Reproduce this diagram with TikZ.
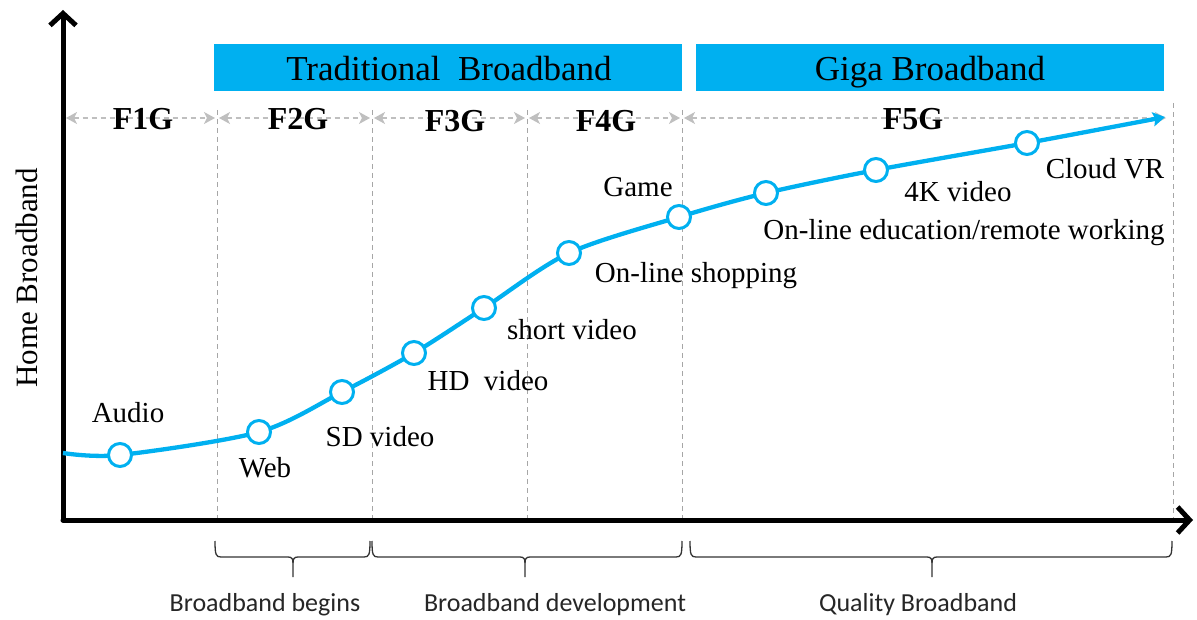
\documentclass[tikz,border=0pt]{standalone}
\usepackage{fontspec}
\setmainfont{Liberation Serif}
\newfontfamily\calib{Carlito}
\usetikzlibrary{arrows.meta}
\definecolor{bblue}{HTML}{00B0F0}
\definecolor{dgray}{HTML}{BFBFBF}
\definecolor{lgray}{HTML}{A6A6A6}
\begin{document}
\begin{tikzpicture}[x=1pt,y=-1pt,
  bar/.style={fill=bblue, draw=none, minimum height=47pt, inner sep=0pt},
  bartext/.style={font=\fontsize{35}{40}\selectfont, inner sep=0pt, anchor=base},
  phase/.style={font=\fontsize{32}{36}\selectfont\bfseries, inner sep=0pt},
  garrow/.style={draw=dgray, dashed, dash pattern=on 5pt off 4pt, line width=1.3pt, {Stealth[length=11pt,width=12pt,inset=3pt]}-{Stealth[length=11pt,width=12pt,inset=3pt]}},
  vline/.style={draw=lgray, dashed, dash pattern=on 5pt off 4pt, line width=0.8pt},
  axis/.style={line width=5pt, -{Straight Barb[length=12pt,width=26pt,line width=5pt]}, line cap=round},
  curve/.style={draw=bblue, line width=4.3pt, -{Stealth[length=12pt,width=14pt,inset=2pt]}},
  dot/.style={circle, draw=bblue, fill=white, line width=3pt, minimum size=23pt, inner sep=0pt},
  lab/.style={font=\fontsize{29}{33}\selectfont, inner sep=0pt},
  brace/.style={draw=black!80, line width=1.3pt},
  slab/.style={font=\calib\fontsize{26}{30}\selectfont, text=black!85, inner sep=0pt}]
\useasboundingbox (0,0) rectangle (1197,620);

% vertical dashed separators
\foreach \i/\x/\t in {1/217/110, 2/372/110, 3/527/110, 4/682/110, 5/1173/103} {
  \coordinate (vt\i) at (\x,\t);
  \coordinate (vb\i) at (\x,520);
  \draw[vline] (vt\i) -- (vb\i);
}

% bars
\node[bar, minimum width=468pt] (trad) at (447.5,67.5) {};
\node[bar, minimum width=468pt] (giga) at (930,67.5) {};
\node[bartext] (tradt) at (449,81) {Traditional\ \ Broadband};
\node[bartext] (gigat) at (930,81) {Giga Broadband};

% phase arrows
\coordinate (h0) at (66,118);
\coordinate (h1l) at (215,118); \coordinate (h1r) at (219,118);
\coordinate (h2l) at (370,118); \coordinate (h2r) at (374,118);
\coordinate (h3l) at (525,118); \coordinate (h3r) at (529,118);
\coordinate (h4l) at (680,118); \coordinate (h4r) at (684,118);
\coordinate (h5) at (1166,118);
\draw[garrow] (h0) -- (h1l);
\draw[garrow] (h1r) -- (h2l);
\draw[garrow] (h2r) -- (h3l);
\draw[garrow] (h3r) -- (h4l);
\draw[garrow] (h4r) -- (h5);
\node[phase] (f1) at (143,119) {F1G};
\node[phase] (f2) at (298,119) {F2G};
\node[phase] (f3) at (455,121) {F3G};
\node[phase] (f4) at (606,121) {F4G};
\node[phase] (f5) at (913,119) {F5G};

% axes
\coordinate (O) at (63,520);
\coordinate (ytop) at (63,10);
\coordinate (xend) at (1193,520);
\draw[axis] (O) -- (ytop);
\draw[axis] (O) -- (xend);
\node[rotate=90, font=\fontsize{31}{34}\selectfont, inner sep=0pt] (ylab) at (27,278) {Home Broadband};

% curve
\coordinate (s) at (63,453);
\coordinate (c1) at (120,455);
\coordinate (c2) at (259,432);
\coordinate (c3) at (342,392);
\coordinate (c4) at (414,353);
\coordinate (c5) at (484,308);
\coordinate (c6) at (569,253);
\coordinate (c7) at (679,217);
\coordinate (c8) at (766,193);
\coordinate (c9) at (876,170);
\coordinate (c10) at (1027,143);
\coordinate (e) at (1165,117);
\draw[curve] plot[smooth, tension=0.5] coordinates {(s) (c1) (c2) (c3) (c4) (c5) (c6) (c7) (c8) (c9) (c10) (e)};
\foreach \i in {1,...,10} { \node[dot] (p\i) at (c\i) {}; }

% labels
\node[lab] (l1) at (128,413) {Audio};
\node[lab] (l2) at (265,468) {Web};
\node[lab] (l3) at (380,437) {SD video};
\node[lab] (l4) at (488,381) {HD\ \ video};
\node[lab] (l5) at (572,330) {short video};
\node[lab] (l6) at (696,276) {On-line shopping};
\node[lab] (l7) at (638,187) {Game};
\node[lab] (l8) at (958,192) {4K video};
\node[lab] (l9) at (964,233) {On-line education/remote working};
\node[lab] (l10) at (1105,169) {Cloud VR};

% braces
\foreach \a/\m/\b in {215/293/370, 372/525/682, 690/932/1172} {
  \draw[brace] (\a,541) .. controls (\a,555) and (\a+1,557) .. (\a+6,557)
     -- (\m-5,557) .. controls (\m-1,557) and (\m,559) .. (\m,563) -- (\m,577);
  \draw[brace] (\b,541) .. controls (\b,555) and (\b-1,557) .. (\b-6,557)
     -- (\m+5,557) .. controls (\m+1,557) and (\m,559) .. (\m,563);
}
\node[slab] (s1) at (265,605) {Broadband begins};
\node[slab] (s2) at (555,605) {Broadband development};
\node[slab] (s3) at (918,605) {Quality Broadband};
\end{tikzpicture}
\end{document}
